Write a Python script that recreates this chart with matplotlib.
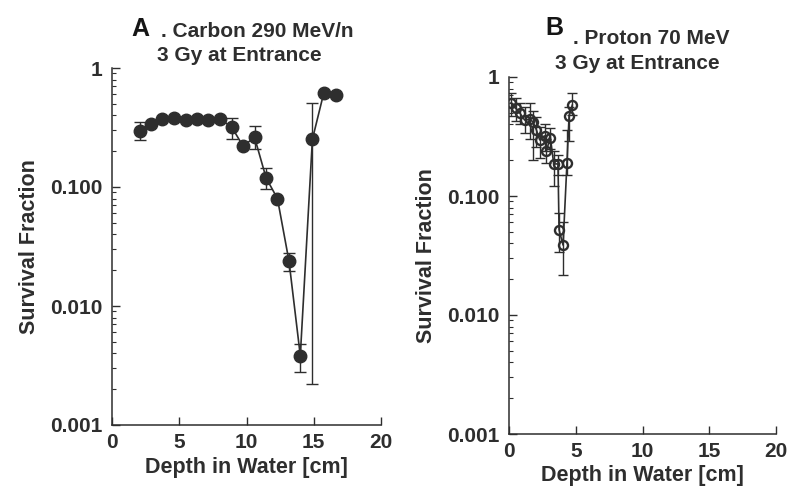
import numpy as np
import matplotlib
matplotlib.use("Agg")
import matplotlib.pyplot as plt
from matplotlib.ticker import FixedLocator, LogLocator, NullFormatter

# ---- data ----
carbon_depth = [2.05, 2.9, 3.75, 4.6, 5.47, 6.3, 7.17, 8.0, 8.9, 9.74, 10.6,
                11.46, 12.3, 13.16, 14.0, 14.9, 15.75, 16.63]
carbon_sf = [0.297, 0.336, 0.375, 0.382, 0.366, 0.375, 0.368, 0.375, 0.319,
             0.221, 0.261, 0.119, 0.080, 0.0238, 0.00382, 0.252, 0.62, 0.589]
carbon_lo = [0.247, None, None, None, None, None, None, None, 0.253,
             None, 0.207, 0.096, None, 0.0196, 0.00281, 0.0022, None, None]
carbon_hi = [0.350, None, None, None, None, None, None, None, 0.378,
             None, 0.323, 0.144, None, 0.0281, 0.00481, 0.505, None, None]

proton_depth = [0.17, 0.5, 0.8, 1.17, 1.55, 1.8, 2.05, 2.3, 2.67, 2.8, 3.1,
                3.35, 3.67, 3.75, 4.05, 4.34, 4.5, 4.74]
proton_sf = [0.61, 0.545, 0.50, 0.435, 0.44, 0.42, 0.36, 0.296, 0.32, 0.24,
             0.31, 0.186, 0.186, 0.052, 0.0387, 0.188, 0.47, 0.58]
proton_lo = [0.47, 0.43, 0.40, 0.34, 0.30, 0.20, 0.26, 0.21, 0.24, 0.19,
             0.25, 0.121, 0.15, 0.034, 0.0217, 0.15, 0.29, 0.48]
proton_hi = [0.74, 0.66, 0.60, 0.56, 0.60, 0.52, 0.46, 0.38, 0.40, 0.30,
             0.37, 0.24, 0.22, 0.072, 0.06, 0.36, 0.56, 0.73]

x_ticks = [0, 5, 10, 15, 20]
y_ticks = [0.001, 0.01, 0.1, 1]
y_tick_labels = ["0.001", "0.010", "0.100", "1"]

FONT = ['Liberation Sans', 'DejaVu Sans']
INK = '#2e2e2e'
plt.rcParams['font.family'] = FONT
plt.rcParams['font.weight'] = 'bold'

W, H = 789, 487
fig = plt.figure(figsize=(W / 100, H / 100), dpi=100)
axA = fig.add_axes([112/W, 1-425/H, (381-112)/W, (425-68)/H])
axB = fig.add_axes([509/W, 1-434/H, (776-509)/W, (434-77)/H])


def style(ax):
    ax.set_yscale('log')
    ax.set_xlim(0, 20)
    ax.set_ylim(0.001, 1)
    for s in ('top', 'right'):
        ax.spines[s].set_visible(False)
    for s in ('left', 'bottom'):
        ax.spines[s].set_color(INK)
        ax.spines[s].set_linewidth(1.1)
    ax.xaxis.set_major_locator(FixedLocator(x_ticks))
    ax.set_xticklabels([str(t) for t in x_ticks])
    ax.yaxis.set_major_locator(FixedLocator(y_ticks))
    ax.set_yticklabels(y_tick_labels)
    ax.yaxis.set_minor_locator(LogLocator(base=10, subs=np.arange(2, 10)))
    ax.yaxis.set_minor_formatter(NullFormatter())
    ax.tick_params(axis='both', which='major', direction='in', length=6,
                   width=1.0, color=INK, labelsize=15, labelcolor=INK)
    ax.tick_params(axis='x', which='major', pad=6)
    ax.tick_params(axis='y', which='major', pad=7)
    ax.tick_params(axis='y', which='minor', direction='in', length=3,
                   width=0.8, color=INK)
    ax.set_xlabel('Depth in Water [cm]', fontsize=15.5, color=INK,
                  fontweight='bold', labelpad=3)
    ax.set_ylabel('Survival Fraction', fontsize=15.5, color=INK,
                  fontweight='bold', labelpad=7)


def draw(ax, d, sf, lo, hi, filled, ms, cap):
    d = np.array(d, float)
    sf = np.array(sf, float)
    lo = np.array([np.nan if v is None else v for v in lo], float)
    hi = np.array([np.nan if v is None else v for v in hi], float)
    m = ~np.isnan(lo)
    ax.errorbar(d[m], sf[m], yerr=[sf[m] - lo[m], hi[m] - sf[m]], fmt='none',
                ecolor=INK, elinewidth=1.0, capsize=cap, capthick=1.0,
                zorder=2)
    if filled:
        ax.plot(d, sf, '-o', color=INK, lw=1.2, ms=ms, mfc=INK, mec=INK,
                zorder=3)
    else:
        ax.plot(d, sf, '-o', color=INK, lw=1.2, ms=ms, mfc='none', mec=INK,
                mew=1.7, zorder=3)


style(axA)
style(axB)
draw(axA, carbon_depth, carbon_sf, carbon_lo, carbon_hi, True, 9.0, 4.3)
draw(axB, proton_depth, proton_sf, proton_lo, proton_hi, False, 6.5, 3.5)


def ftext(x, y, s, size, color=INK):
    fig.text(x / W, 1 - y / H, s, fontsize=size, fontweight='bold',
             color=color, va='baseline', ha='left')


ftext(131, 36, 'A', 18, '#151515')
ftext(161, 37, '. Carbon 290 MeV/n', 15)
ftext(157, 61, '3 Gy at Entrance', 15)

ftext(545, 35, 'B', 18, '#151515')
ftext(573, 44, '. Proton 70 MeV', 15)
ftext(555, 69, '3 Gy at Entrance', 15)

fig.savefig('out.png', dpi=100)
